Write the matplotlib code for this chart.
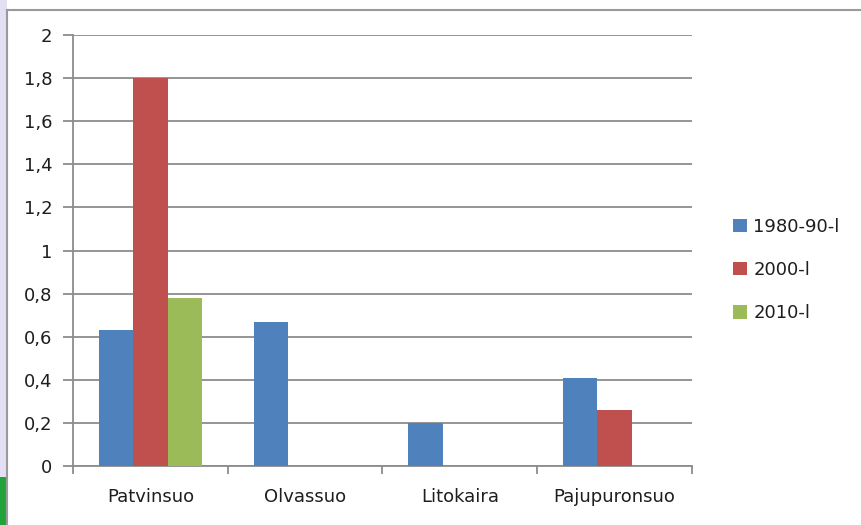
import matplotlib.pyplot as plt
import numpy as np
from matplotlib.patches import Rectangle
from matplotlib.ticker import FixedLocator, FuncFormatter

plt.rcParams['font.family'] = ['DejaVu Sans']

categories = ['Patvinsuo', 'Olvassuo', 'Litokaira', 'Pajupuronsuo']
series_names = ['1980-90-l', '2000-l', '2010-l']
values_1980 = [0.63, 0.67, 0.20, 0.41]
values_2000 = [1.80, 0.0, 0.0, 0.26]
values_2010 = [0.78, 0.0, 0.0, 0.0]
colors = ['#4f81bd', '#c0504d', '#9bbb59']

fig = plt.figure(figsize=(8.62, 5.25), dpi=100)

# screenshot frame around the chart
fig.patches.append(Rectangle((0, 0), 7.5 / 862, 1, transform=fig.transFigure,
                             facecolor='#e4e0f4', edgecolor='none', zorder=0))
fig.patches.append(Rectangle((0, 0), 7.5 / 862, 48 / 525, transform=fig.transFigure,
                             facecolor='#22a33a', edgecolor='none', zorder=0))
fig.add_artist(plt.Line2D([7.5 / 862, 7.5 / 862], [0, 515 / 525], color='#9a9a9a',
                          lw=1.5, transform=fig.transFigure))
fig.add_artist(plt.Line2D([7.5 / 862, 1], [515 / 525, 515 / 525], color='#9a9a9a',
                          lw=1.5, transform=fig.transFigure))

ax = fig.add_axes([73 / 862, 59 / 525, 619 / 862, 431 / 525])

x = np.arange(len(categories))
width = 0.222
for i, (vals, name) in enumerate(zip([values_1980, values_2000, values_2010], series_names)):
    ax.bar(x + (i - 1) * width, vals, width, color=colors[i], label=name, zorder=3)

ax.set_xlim(-0.5, len(categories) - 0.5)
ax.set_ylim(0, 2)
ax.set_yticks(np.arange(0, 2.01, 0.2))
ax.yaxis.set_major_formatter(FuncFormatter(
    lambda v, p: ('%g' % round(v, 1)).replace('.', ',')))
ax.yaxis.grid(True, color='#8c8c8c', lw=1.3, zorder=0)

ax.set_xticks(x)
ax.set_xticklabels(categories)
ax.xaxis.set_minor_locator(FixedLocator(np.arange(-0.5, len(categories), 1.0)))
ax.tick_params(axis='x', which='major', length=0, pad=16, labelsize=13, labelcolor='#1e1e1e')
ax.tick_params(axis='x', which='minor', length=6, width=1.3, color='#8c8c8c')
ax.tick_params(axis='y', length=7, width=1.3, color='#8c8c8c', pad=8,
               labelsize=13, labelcolor='#1e1e1e')

for s in ['top', 'right']:
    ax.spines[s].set_visible(False)
for s in ['left', 'bottom']:
    ax.spines[s].set_color('#8c8c8c')
    ax.spines[s].set_linewidth(1.3)

ax.legend(loc='center left', bbox_to_anchor=(1.040, 0.455),
          bbox_transform=ax.transAxes, frameon=False, fontsize=13,
          handlelength=0.78, handleheight=0.78, handletextpad=0.35, labelspacing=1.4,
          labelcolor='#1e1e1e')

fig.savefig('out.png', dpi=100)
